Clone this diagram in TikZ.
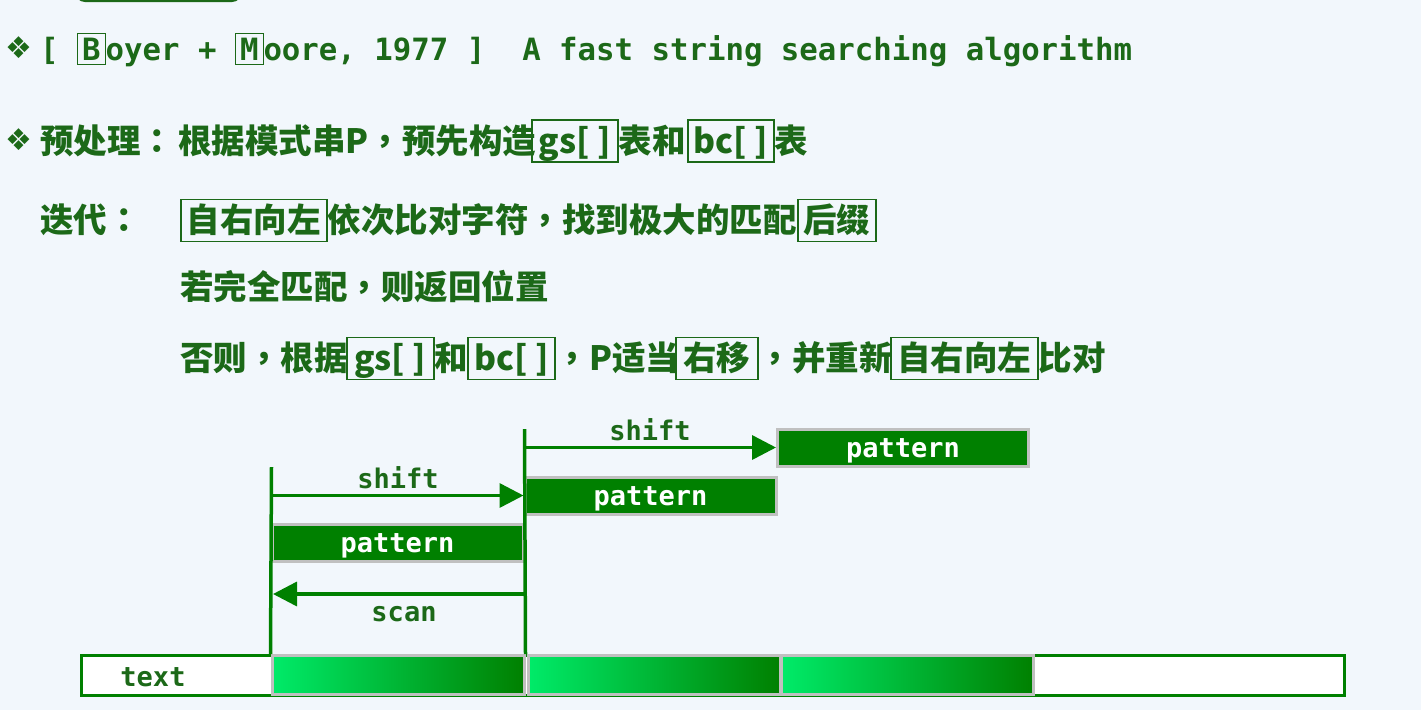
\documentclass[tikz,border=0pt]{standalone}
\usepackage{fontspec}
\setmonofont{DejaVu Sans Mono}
\newfontfamily\cjk{Noto Sans CJK SC}
\newfontfamily\cjktc{Noto Sans CJK TC}
\newfontfamily\dejavu{DejaVu Sans}
\usetikzlibrary{arrows.meta}
\definecolor{tg}{RGB}{28,105,24}
\definecolor{lg}{RGB}{0,128,0}
\definecolor{bgc}{RGB}{242,247,252}
\definecolor{lgr}{RGB}{0,235,105}
\definecolor{gborder}{RGB}{192,192,192}
\newcommand{\bxm}[1]{{\setlength\fboxsep{4pt}\setlength\fboxrule{1pt}\fcolorbox{tg}{bgc}{\vphantom{B}#1}}}
\newcommand{\pc}[1]{{\cjktc #1}}
\tikzset{
  x=1pt, y=-1pt,
  cn/.style={font=\cjk\bfseries\fontsize{33.5}{40}\selectfont, text=tg, inner sep=0pt, anchor=base west},
  cb/.style={cn, draw=tg, line width=1.5pt, inner xsep=3pt, inner ysep=1pt, text height=32pt, text depth=8pt},
  mono/.style={font=\ttfamily\bfseries\fontsize{30.7}{36}\selectfont, text=tg, inner sep=0pt, anchor=base west},
  bullet/.style={font=\dejavu\fontsize{30}{34}\selectfont, text=tg, inner sep=0pt},
  lab/.style={font=\ttfamily\bfseries\fontsize{27}{30}\selectfont, text=tg, inner sep=0pt},
  vline/.style={draw=lg, line width=3.5pt},
  arr/.style={draw=lg, line width=3.5pt, -{Triangle[length=24pt, width=24pt]}},
  pat/.style={fill=lg, draw=gborder, line width=3pt, minimum width=251pt, minimum height=37pt, inner sep=0pt,
              text height=19pt, text depth=0pt,
              font=\ttfamily\bfseries\fontsize{27}{30}\selectfont, text=white},
  cell/.style={draw=gborder, line width=3pt, minimum width=252pt, minimum height=39pt, inner sep=0pt,
               left color=lgr, right color=lg},
}
\begin{document}
\begin{tikzpicture}
\fill[bgc] (0,0) rectangle (1421,710);
\useasboundingbox (0,0) rectangle (1421,710);
\clip (0,0) rectangle (1421,710);
% top partial shape
\fill[tg, rounded corners=10pt] (75,-30) rectangle (242,2);

% line 1
\node[bullet] (b1) at (19,48) {❖};
\node[mono] (l1) at (40,60) {[ \bxm{B}oyer + \bxm{M}oore, 1977 ]~~A fast string searching algorithm};

% line 2
\node[bullet] (b2) at (19,140) {❖};
\node[cn] (l2a) at (40,153) {预处理\pc{：}};
\node[cn] (l2b) at (178,153) {根据模式串P\pc{，}预先构造};
\node[cb, minimum width=86pt] (l2c) at (531,153) {gs[ ]};
\node[cn] (l2d) at (l2c.base east) {表和};
\node[cb, minimum width=86pt] (l2e) at (687,153) {bc[ ]};
\node[cn] (l2f) at (l2e.base east) {表};

% line 3
\node[cn] (l3a) at (40,232.5) {迭代\pc{：}};
\node[cb, minimum width=146pt] (l3b) at (180,232.5) {自右向左};
\node[cn] (l3c) at (l3b.base east) {依次比对字符\pc{，}找到极大的匹配};
\node[cb, minimum width=78pt] (l3d) at (797,232.5) {后缀};

% line 4
\node[cn] (l4a) at (180,299.5) {若完全匹配\pc{，}则返回位置};

% line 5
\node[cn] (l5a) at (180,370.5) {否则\pc{，}根据};
\node[cb, minimum width=87pt] (l5b) at (346,370.5) {gs[ ]};
\node[cn] (l5c) at (l5b.base east) {和};
\node[cb, minimum width=87pt] (l5d) at (467,370.5) {bc[ ]};
\node[cn] (l5e) at (l5d.base east) {\pc{，}P适当};
\node[cb, minimum width=82pt] (l5f) at (675,370.5) {右移};
\node[cn] (l5g) at (l5f.base east) {\pc{，}并重新};
\node[cb, minimum width=147pt] (l5h) at (890,370.5) {自右向左};
\node[cn] (l5i) at (l5h.base east) {比对};

% text bar
\node[draw=lg, fill=white, line width=3pt, minimum width=1263pt, minimum height=40pt, inner sep=0pt] (bar) at (713,675) {};
\node[lab] (tlab) at (153,677) {text};
\node[cell] (c1) at (398,675) {};
\node[cell] (c2) at (654,675) {};
\node[cell] (c3) at (907.5,675) {};

% pattern boxes
\node[pat] (p1) at (397.5,543) {pattern};
\node[pat] (p2) at (650.5,495.5) {pattern};
\node[pat] (p3) at (903,447.5) {pattern};

% vertical lines
\coordinate (v1t) at (271.5,467);
\coordinate (v2t) at (524.5,429);
\draw[vline] (v1t) -- (c1.north west);
\draw[vline] (v2t) -- (c1.north east);

% arrows
\coordinate (s1a) at (271.5,495.5);
\coordinate (s2a) at (524.5,447.5);
\coordinate (sca) at (524.5,594);
\coordinate (scb) at (273,594);
\draw[arr] (s1a) -- (p2.west);
\draw[arr] (s2a) -- (p3.west);
\draw[arr] (sca) -- (scb);
\node[lab] (sh1) at (398,478) {shift};
\node[lab] (sh2) at (650,430) {shift};
\node[lab] (scl) at (404,614) {scan};
\end{tikzpicture}
\end{document}
